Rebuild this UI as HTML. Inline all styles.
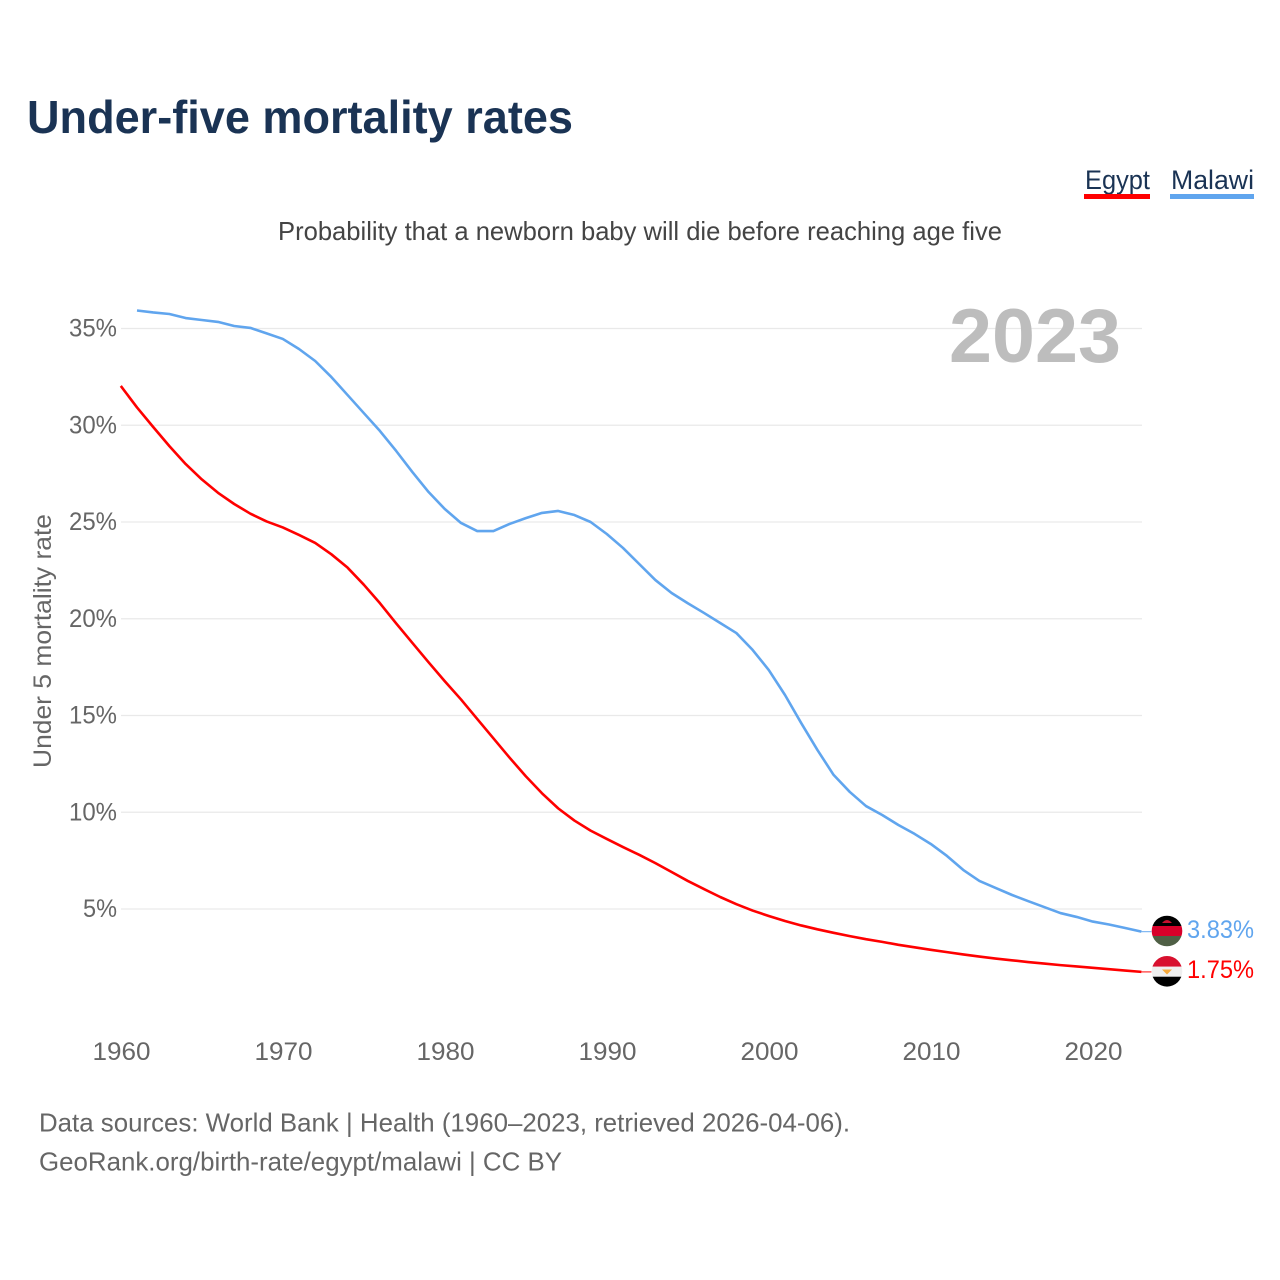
<!DOCTYPE html>
<html lang="en">
<head>
<meta charset="utf-8">
<title>Under-five mortality rates</title>
<style>
html,body{margin:0;padding:0;background:#fff;width:1280px;height:1280px;overflow:hidden}
svg{display:block}
text{font-family:"Liberation Sans",sans-serif}
</style>
</head>
<body>
<svg id="chart" xmlns="http://www.w3.org/2000/svg" width="1280" height="1280" viewBox="0 0 1280 1280">
  <rect width="1280" height="1280" fill="#fff"/>
  <text x="27" y="133" font-size="46" font-weight="700" fill="#1a3354" textLength="546" lengthAdjust="spacingAndGlyphs">Under-five mortality rates</text>
  <text x="1085" y="189" font-size="27" fill="#1a3354" textLength="65" lengthAdjust="spacingAndGlyphs">Egypt</text>
  <rect x="1084" y="194" width="66" height="5" fill="#ff0000"/>
  <text x="1171" y="189" font-size="27" fill="#1a3354" textLength="83" lengthAdjust="spacingAndGlyphs">Malawi</text>
  <rect x="1170" y="194" width="84" height="5" fill="#60a5ee"/>
  <text x="278" y="240" font-size="26" fill="#444" textLength="724" lengthAdjust="spacingAndGlyphs">Probability that a newborn baby will die before reaching age five</text>
  <g id="grid"></g>
  <g id="yticks"></g>
  <g id="xticks"></g>
  <text x="949" y="362" font-size="76" font-weight="700" fill="#bdbdbd" textLength="172" lengthAdjust="spacingAndGlyphs">2023</text>
  <text transform="translate(51 768) rotate(-90)" font-size="25" fill="#666" textLength="254" lengthAdjust="spacingAndGlyphs">Under 5 mortality rate</text>
  <g id="series"></g>
  <defs>
    <clipPath id="clip-malawi"><circle cx="1167" cy="931" r="15.3"/></clipPath>
    <clipPath id="clip-egypt"><circle cx="1167" cy="971.3" r="15.3"/></clipPath>
  </defs>
  <g clip-path="url(#clip-malawi)">
    <rect x="1151" y="915" width="32" height="11" fill="#000"/>
    <rect x="1151" y="926" width="32" height="10" fill="#d8002a"/>
    <rect x="1151" y="936" width="32" height="11" fill="#4f5f45"/>
    <path d="M1162 923 Q1167 917 1172 923 Z" fill="#c8102e"/>
  </g>
  <g clip-path="url(#clip-egypt)">
    <rect x="1151" y="956" width="32" height="10.7" fill="#d8102e"/>
    <rect x="1151" y="966.7" width="32" height="10" fill="#efefef"/>
    <rect x="1151" y="976.7" width="32" height="10.7" fill="#000"/>
    <path d="M1162 969.5 L1172 969.5 L1169 972.5 L1167 974.5 L1165 972.5 Z" fill="#f6a93b"/>
  </g>
  <text id="label-malawi" x="1187" y="938" font-size="25" fill="#60a5ee" textLength="67" lengthAdjust="spacingAndGlyphs">3.83%</text>
  <text id="label-egypt" x="1187" y="978" font-size="25" fill="#ff0000" textLength="67" lengthAdjust="spacingAndGlyphs">1.75%</text>
  <text x="39" y="1131.5" font-size="26" fill="#666" textLength="811" lengthAdjust="spacingAndGlyphs">Data sources: World Bank | Health (1960–2023, retrieved 2026-04-06).</text>
  <text x="39" y="1170.5" font-size="26" fill="#666" textLength="523" lengthAdjust="spacingAndGlyphs">GeoRank.org/birth-rate/egypt/malawi | CC BY</text>
</svg>
<script>
const egyptStartYear = 1960;
const malawiStartYear = 1961;
const egyptValues = [32.03,30.92,29.91,28.92,28.0,27.2,26.51,25.93,25.43,25.03,24.72,24.33,23.92,23.33,22.64,21.76,20.8,19.76,18.75,17.75,16.77,15.83,14.82,13.82,12.82,11.86,10.98,10.2,9.57,9.05,8.62,8.2,7.8,7.37,6.91,6.45,6.03,5.62,5.25,4.92,4.64,4.38,4.15,3.95,3.77,3.6,3.44,3.3,3.15,3.02,2.89,2.77,2.65,2.54,2.44,2.35,2.26,2.18,2.1,2.03,1.96,1.89,1.82,1.75];
const malawiValues = [35.93,35.83,35.75,35.54,35.44,35.34,35.13,35.03,34.75,34.46,33.94,33.32,32.49,31.56,30.63,29.7,28.67,27.58,26.55,25.67,24.95,24.53,24.53,24.9,25.2,25.47,25.57,25.36,25.0,24.38,23.66,22.83,22.0,21.33,20.8,20.3,19.78,19.26,18.39,17.35,16.06,14.61,13.22,11.93,11.05,10.32,9.86,9.34,8.88,8.36,7.74,7.02,6.45,6.09,5.73,5.41,5.1,4.79,4.59,4.35,4.2,4.02,3.83];
const yTickValues = [5,10,15,20,25,30,35];
const xTickYears = [1960,1970,1980,1990,2000,2010,2020];

const NS = 'http://www.w3.org/2000/svg';
function xScale(year){ return 120.8 + (year - 1960) * 16.2; }
function yScale(v){ return 1005.75 - v * 19.35; }
function make(tag, attrs, parent, content){
  const el = document.createElementNS(NS, tag);
  for (const k in attrs) el.setAttribute(k, attrs[k]);
  if (content !== undefined) el.textContent = content;
  parent.appendChild(el);
  return el;
}
const grid = document.getElementById('grid');
const yticks = document.getElementById('yticks');
const xticks = document.getElementById('xticks');
const series = document.getElementById('series');

yTickValues.forEach(function(v){
  const line = make('line', {x1:121, x2:1142, y1:yScale(v), y2:yScale(v), stroke:'#e9e9e9', 'stroke-width':1.3}, grid);
  
  
  const label = v + '%';
  const t = make('text', {x:117, y:yScale(v)+8, 'text-anchor':'end', 'font-size':25, fill:'#666', textLength: v < 10 ? 34 : 48, lengthAdjust:'spacingAndGlyphs'}, yticks, label);
  
  
});

xTickYears.forEach(function(y){
  const t = make('text', {x:xScale(y) + 0.7, y:1060, 'text-anchor':'middle', 'font-size':25, fill:'#666', textLength:58, lengthAdjust:'spacingAndGlyphs'}, xticks, String(y));
  
  
});

function drawSeries(values, startYear, color, name){
  const pts = values.map(function(v, i){ return xScale(startYear + i).toFixed(2) + ',' + yScale(v).toFixed(2); });
  const lastY = yScale(values[values.length - 1]);
  const lastX = xScale(startYear + values.length - 1);
  const leader = make('line', {x1:lastX, x2:lastX + 10, y1:lastY, y2:lastY, stroke:color, 'stroke-width':1.2, opacity:0.8}, series);
  
  
  const line = make('polyline', {points:pts.join(' '), fill:'none', stroke:color, 'stroke-width':2.6, 'stroke-linejoin':'round'}, series);
  
  
}
drawSeries(malawiValues, malawiStartYear, '#60a5ee', 'malawi');
drawSeries(egyptValues, egyptStartYear, '#ff0000', 'egypt');
</script>
</body>
</html>
